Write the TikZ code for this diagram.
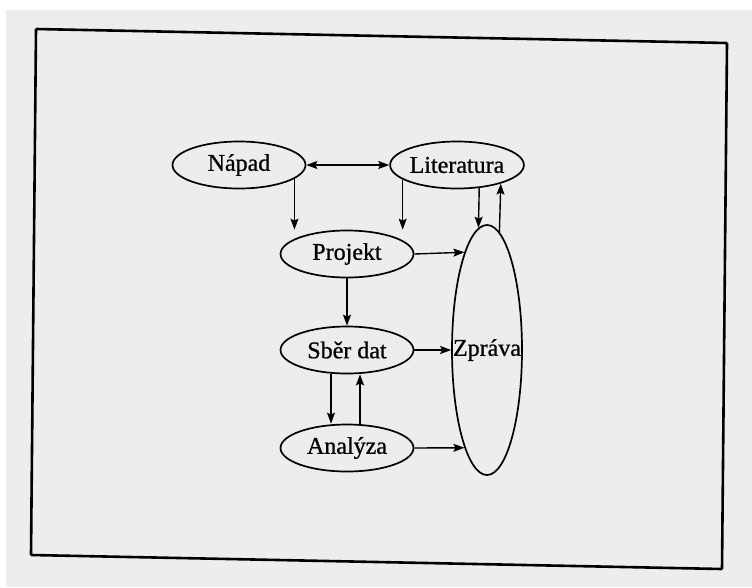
\documentclass[tikz,border=0pt]{standalone}
\usepackage{fontspec}
\setmainfont{Liberation Serif}
\newfontfamily\stagefont{Liberation Serif}[FakeBold=0.8]
\usetikzlibrary{arrows.meta,positioning,shapes.geometric}

\begin{document}
\begin{tikzpicture}[x=1pt,y=-1pt,>={Stealth[length=11pt,width=8pt,inset=2pt]},
  font=\stagefont\fontsize{24}{28}\selectfont]
  \useasboundingbox (0,0) rectangle (752,587);
  \tikzset{
    stage/.style={ellipse,draw=black,line width=1.7pt,minimum width=133pt,minimum height=47pt,inner sep=0pt},
    report/.style={ellipse,draw=black,line width=1.7pt,minimum width=70pt,minimum height=250pt,inner sep=0pt},
    % edge styles
    pre/.style={<-,line width=1.4pt},
    post/.style={->,line width=1.4pt},
    both/.style={<->,line width=1.4pt},
    % frame style
    frame/.style={line width=2.6pt,rounded corners=1pt}
  }

  % Page and frame
  \fill [black!7] (6,10) rectangle (752,587);
  \coordinate (tl) at (36,29);
  \coordinate (tr) at (727,43);
  \coordinate (br) at (722,569);
  \coordinate (bl) at (31,555);
  \draw [frame] (tl) -- (tr) -- (br) -- (bl) -- cycle;

  % Stages
  \node [stage] (napad) at (239,165)   {Nápad};
  \node [stage] (lit) at (457,165)     {Literatura};
  \node [stage] (projekt) at (347,254) {Projekt};
  \node [stage] (sber) at (347,350)    {Sběr dat};
  \node [stage] (analyza) at (347,448) {Analýza};

  % Report
  \node [report] (zprava) at (487,350) {\makebox[0pt]{Zpráva}};

  % Connections
  \draw [both] (napad) -- (lit);
  \draw [post] (napad.-14.2) -- (napad.-14.2 |- projekt.north);
  \draw [post] (lit.-165) -- (lit.-165 |- projekt.north);
  \draw [post] (lit.-46.7) -- (zprava.94.3);
  \draw [post] (zprava.84.2) -- (lit.-23.4);

  \draw [post] (projekt) -- (sber);
  \draw [post] (projekt.east) -- (zprava.103.1);
  \draw [post] (sber) -- (zprava);
  \draw [post] ([xshift=-16pt]sber.south) -- ([xshift=-16pt]analyza.north);
  \draw [pre] ([xshift=13pt]sber.south) -- ([xshift=13pt]analyza.north);
  \draw [post] (analyza.east) -- (zprava.257.5);

\end{tikzpicture}
\end{document}
